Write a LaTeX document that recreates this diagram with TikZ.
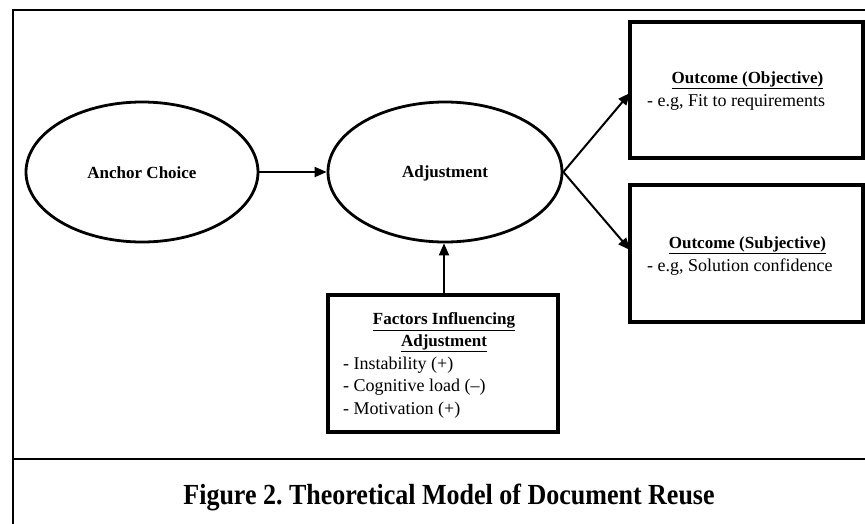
\documentclass[tikz,border=0pt]{standalone}
\usepackage{fontspec}
\setmainfont{Liberation Serif}
\usetikzlibrary{shapes.geometric,arrows.meta}
\frenchspacing
\begin{document}
\begin{tikzpicture}[x=1pt,y=-1pt,
  oval/.style={ellipse,draw,line width=2.8pt,inner sep=0pt},
  outbox/.style={draw,line width=3.8pt,inner sep=0pt},
  conn/.style={line width=2pt,-{Triangle[length=12pt,width=10pt]}},
  frame/.style={line width=2.8pt},
  lbl/.style={font=\fontsize{17}{21}\selectfont\bfseries,inner sep=0pt},
  body/.style={font=\fontsize{18}{22}\selectfont,align=left,inner sep=0pt}]
\useasboundingbox (0,0) rectangle (865,523);
% frame
\coordinate (tl) at (13,10);
\coordinate (tr) at (866,10);
\coordinate (bl) at (13,524);
\coordinate (ml) at (13,459);
\coordinate (mr) at (866,459);
\draw[frame] (bl) -- (tl) -- (tr);
\draw[frame] (ml) -- (mr);
% ellipses
\node[oval,minimum width=232pt,minimum height=140pt] (anchor) at (142,172) {};
\node[lbl] (anchortxt) at (142,173) {Anchor Choice};
\node[oval,minimum width=234pt,minimum height=140pt] (adj) at (445,172) {};
\node[lbl] (adjtxt) at (445,173) {Adjustment};
% outcome boxes
\node[outbox,minimum width=233pt,minimum height=136pt] (obj) at (746.5,90) {};
\node[lbl] (objt) at (747.5,80) {\underline{Outcome (Objective)}};
\node[body,anchor=west] (objb) at (647,102) {- e.g, Fit to requirements};
\node[outbox,minimum width=233pt,minimum height=137pt] (subj) at (746.5,253.5) {};
\node[lbl] (subjt) at (747.5,245) {\underline{Outcome (Subjective)}};
\node[body,anchor=west] (subjb) at (647,267) {- e.g, Solution confidence};
% factors box
\node[outbox,minimum width=230pt,minimum height=137pt] (fac) at (443,363.5) {};
\node[lbl,align=center,font=\fontsize{17}{21.5}\selectfont\bfseries] (fact) at (444,332.5) {\underline{Factors Influencing}\\\underline{Adjustment}};
\node[body,anchor=west] (fac1) at (343,365) {- Instability (+)};
\node[body,anchor=west] (fac2) at (343,387) {- Cognitive load (--)};
\node[body,anchor=west] (fac3) at (343,410) {- Motivation (+)};
% caption
\node[font=\fontsize{26}{30}\selectfont\bfseries] (cap) at (449,497) {\scalebox{1}[1.12]{Figure 2. Theoretical Model of Document Reuse}};
% connectors
\coordinate (facTop) at (444,295);
\draw[conn] (anchor.east) -- (adj.west);
\draw[conn] (facTop) -- (facTop |- adj.south);
\coordinate (split) at (adj.east);
\draw[conn] (split) -- (630,93);
\draw[conn] (split) -- (630,250);
\end{tikzpicture}
\end{document}
